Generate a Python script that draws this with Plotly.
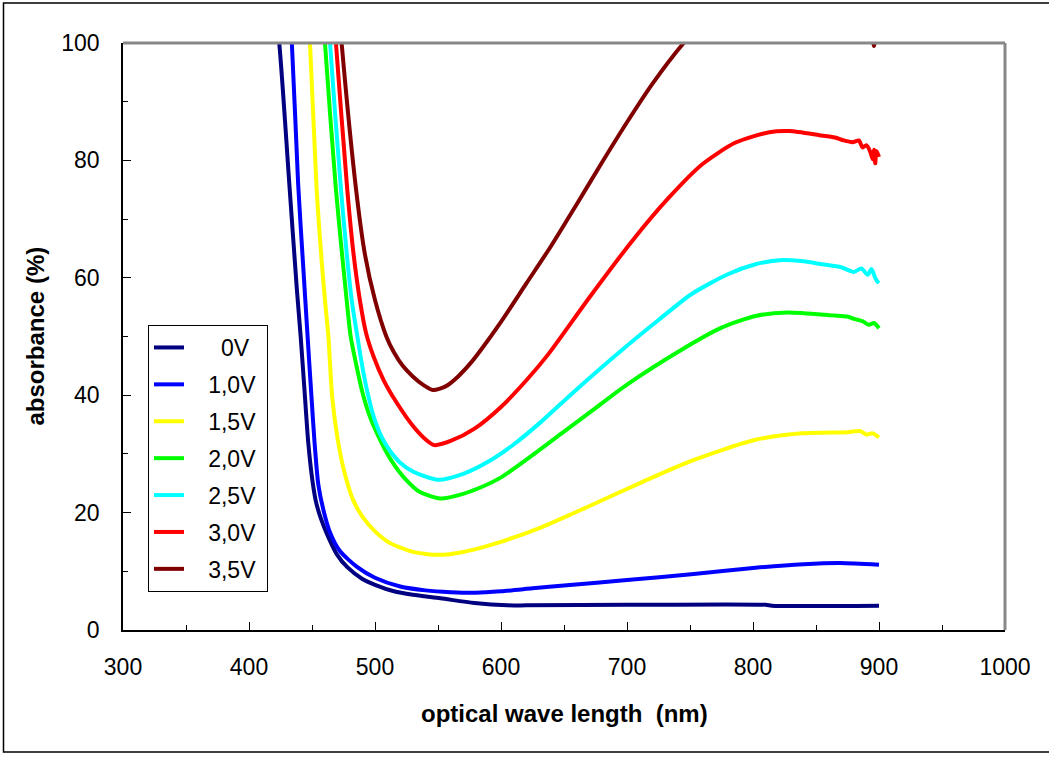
import plotly.graph_objects as go

# ---------------- data ----------------
wl_0V = [416, 424, 432, 438, 441, 444, 447, 450, 453, 457, 462, 470, 478, 490, 500, 515, 530, 552, 579, 605, 620, 700, 810, 815, 900]
ab_0V = [115, 100, 76, 58, 50, 41, 32, 26, 22, 19, 16.3, 12.8, 10.7, 8.7, 7.7, 6.6, 6.0, 5.4, 4.6, 4.2, 4.2, 4.3, 4.3, 4.15, 4.15]

wl_10V = [429, 434, 439, 443, 446.5, 449.5, 452, 455, 459, 464, 472, 486, 500, 520, 540, 560, 580, 600, 625, 650, 700, 751, 802, 840, 869, 900]
ab_10V = [115, 100, 76, 62, 50, 40, 32, 24.8, 20.5, 16.8, 13.5, 10.7, 8.9, 7.4, 6.75, 6.45, 6.35, 6.6, 7.1, 7.6, 8.5, 9.5, 10.6, 11.2, 11.4, 11.1]

wl_15V = [444, 448.4, 453.7, 458, 460.3, 463, 466, 470, 475, 482, 490, 500, 512, 530, 551, 570, 592, 632, 672, 712, 751, 802, 839, 875, 885, 890, 895, 900]
ab_15V = [115, 100, 75, 62, 56.2, 50, 39.8, 33, 27.5, 22.5, 19.3, 16.8, 14.8, 13.3, 12.8, 13.3, 14.5, 17.5, 21.3, 25.2, 28.8, 32.4, 33.5, 33.7, 33.9, 33.3, 33.5, 32.8]

wl_20V = [456, 460.3, 469, 477.5, 480.7, 485.5, 490, 496, 502, 508, 515, 522.5, 535, 552, 570, 585, 600, 625, 650, 675, 700, 743, 775, 802, 827, 863, 875, 880, 887, 892, 896, 900]
ab_20V = [115, 100, 75, 56.2, 50, 44.8, 40.5, 36.3, 33.3, 30.7, 28.2, 26.1, 23.6, 22.4, 23.2, 24.4, 26, 29.8, 33.8, 37.8, 41.8, 47.7, 51.5, 53.5, 54.1, 53.6, 53.4, 53.0, 52.6, 52.0, 52.3, 51.4]

wl_25V = [460, 464.3, 473, 481.5, 486, 490, 494, 499, 505, 512, 520, 530, 550, 570, 590, 610, 632, 658, 696, 725, 751, 780, 802, 821, 840, 855, 870, 880, 886, 891, 894, 897, 899, 900]
ab_25V = [115, 100, 75, 56.2, 50, 44.8, 40.5, 36.3, 33, 30.5, 28.5, 27, 25.6, 26.6, 28.7, 31.6, 35.5, 40.6, 47.7, 52.8, 57.2, 60.6, 62.3, 63, 62.8, 62.3, 61.8, 61.0, 61.6, 60.5, 61.5, 60.0, 59.3, 59.1]

wl_30V = [464, 469, 478, 483, 488, 493, 499, 507, 517, 530, 540, 547, 560, 579, 600, 620, 637.6, 670, 703.8, 733, 759.5, 785.8, 812.9, 828.8, 852.7, 865, 872, 879, 884, 887, 890, 893, 895, 896, 897, 898, 900]
ab_30V = [115, 100, 75, 64, 56.2, 50.5, 46.5, 42.5, 38.8, 34.8, 32.5, 31.5, 32.2, 34.3, 38, 42.5, 47, 56.6, 66.2, 73.6, 79.3, 83, 84.8, 85, 84.3, 83.9, 83.4, 83.1, 83.4, 82.2, 82.6, 81.5, 80.2, 81.8, 79.5, 81.6, 80.6]

wl_35V = [468, 473.5, 485, 492, 500, 509, 515, 522, 530, 538, 546, 556, 566, 576, 584, 600, 620, 640, 660, 680, 700, 720, 745, 780, 820, 860, 890, 894, 896, 898, 900]
ab_35V = [115, 100, 75, 64, 56.2, 50, 47.3, 45, 43.2, 41.8, 40.9, 41.5, 43.2, 45.5, 47.7, 52.5, 59, 65.5, 72.5, 79.6, 86.5, 93, 100, 108, 112, 111, 106, 103, 99.5, 103, 104]

labels = ["0V", "1,0V", "1,5V", "2,0V", "2,5V", "3,0V", "3,5V"]
colors = ["#000080", "#0000FF", "#FFFF00", "#00FF00", "#00FFFF", "#FF0000", "#800000"]

x_ticks = [300, 400, 500, 600, 700, 800, 900, 1000]
y_ticks = [0, 20, 40, 60, 80, 100]

series = [(wl_0V, ab_0V), (wl_10V, ab_10V), (wl_15V, ab_15V), (wl_20V, ab_20V),
          (wl_25V, ab_25V), (wl_30V, ab_30V), (wl_35V, ab_35V)]

FONT = "Liberation Sans, Arial, sans-serif"
NB = "\u00a0"


def legend_text(lbl):
    # right-align the short "0V" label like the original legend
    lead = NB * 3 + (NB * 2 if lbl == "0V" else "")
    return lead + lbl + NB


fig = go.Figure()
for (xs, ys), name, col in zip(series, labels, colors):
    fig.add_trace(go.Scatter(
        x=xs, y=ys, mode="lines", name=legend_text(name), legendgroup=name,
        line=dict(color=col, width=4, shape="spline", smoothing=0.7),
    ))

L, R, T, B = 123, 44, 43, 128
W, H = 1049, 758
pw, ph = W - L - R, H - T - B


def px_x(p):
    return (p - L) / pw


def px_y(p):
    return (H - B - p) / ph


fig.update_layout(
    width=W, height=H,
    margin=dict(l=L, r=R, t=T, b=B, pad=0),
    paper_bgcolor="white", plot_bgcolor="white",
    font=dict(family=FONT, size=23, color="black"),
    showlegend=True,
    legend=dict(
        x=px_x(148), y=px_y(325), xanchor="left", yanchor="top",
        bordercolor="black", borderwidth=1, bgcolor="white",
        font=dict(family=FONT, size=23, color="black"),
        tracegroupgap=4, traceorder="grouped",
    ),
    xaxis=dict(
        range=[300, 1000], tickvals=x_ticks, ticks="inside", ticklen=8, tickwidth=1,
        tickcolor="black", showline=True, linecolor="black", linewidth=1.5,
        showgrid=False, zeroline=False, ticklabelstandoff=16,
        minor=dict(ticks="inside", ticklen=5, dtick=50, tick0=300, tickcolor="black", showgrid=False),
        tickfont=dict(family=FONT, size=23, color="black"),
    ),
    yaxis=dict(
        range=[0, 100], tickvals=y_ticks, ticks="inside", ticklen=8, tickwidth=1,
        tickcolor="black", showline=True, linecolor="black", linewidth=1.5,
        showgrid=False, zeroline=False, ticklabelstandoff=17,
        minor=dict(ticks="inside", ticklen=5, dtick=10, tick0=0, tickcolor="black", showgrid=False),
        tickfont=dict(family=FONT, size=23, color="black"),
    ),
    annotations=[
        dict(text="<b>optical wave length  (nm)</b>", xref="paper", yref="paper",
             x=px_x(564), y=px_y(713), xanchor="center", yanchor="middle", showarrow=False,
             font=dict(family=FONT, size=24, color="black")),
        dict(text="<b>absorbance (%)</b>", xref="paper", yref="paper",
             x=px_x(35), y=0.5, xanchor="center", yanchor="middle", showarrow=False,
             textangle=-90, font=dict(family=FONT, size=24, color="black")),
    ],
    shapes=[
        dict(type="line", xref="paper", yref="paper", x0=0, x1=1, y0=1, y1=1,
             line=dict(color="#888888", width=3)),
        dict(type="line", xref="paper", yref="paper", x0=1, x1=1, y0=0, y1=1,
             line=dict(color="#888888", width=3)),
        dict(type="rect", xref="paper", yref="paper",
             x0=px_x(3.5), x1=px_x(1060), y0=px_y(752), y1=px_y(3),
             line=dict(color="black", width=1.5), fillcolor="rgba(0,0,0,0)", layer="below"),
    ],
)

fig.write_html("out.html", config={"displayModeBar": False},
               post_script="document.body.style.margin='0';")
